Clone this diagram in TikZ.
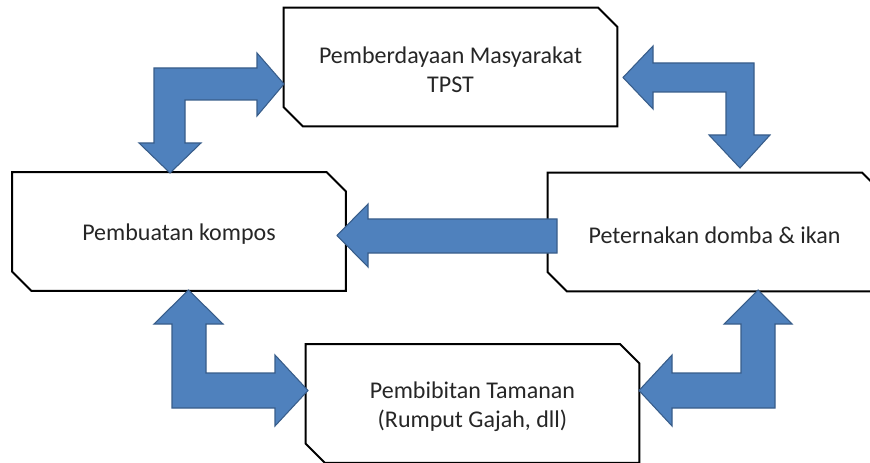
\documentclass[tikz,border=0pt]{standalone}
\usepackage{fontspec}
\setmainfont{Carlito}
\usetikzlibrary{calc}
\definecolor{arrowfill}{HTML}{4F81BD}
\definecolor{arrowline}{HTML}{385D8A}
\tikzset{
  boxnode/.style={minimum width=249.75pt, minimum height=88.5pt, inner sep=0pt, align=center, font=\fontsize{18}{22}\selectfont},
  boxtext/.style={inner sep=0pt, align=center, font=\fontsize{18}{22}\selectfont, text=black!85},
  boxline/.style={line width=1.5pt, line join=miter},
  blockarrow/.style={fill=arrowfill, draw=arrowline, line width=0.8pt, line join=miter},
}
\newcommand\chbox[1]{\draw[boxline] (#1.north west) -- ($(#1.north east)+(-19,0)$) -- ($(#1.north east)+(0,19)$) -- (#1.south east) -- ($(#1.south west)+(19,0)$) -- ($(#1.south west)+(0,-19)$) -- cycle;}
\begin{document}
\begin{tikzpicture}[x=0.75pt,y=-0.75pt]
\useasboundingbox (0,0) rectangle (870,463);
\clip (0,0) rectangle (870,463);
% boxes
\node[boxnode] (tpst) at (450.5,67) {};
\node[boxnode] (kompos) at (179,231.5) {};
\node[boxnode] (ternak) at (714.5,232) {};
\node[boxnode] (bibit) at (472.5,403.5) {};
\node[boxtext] (tpstT) at ($(tpst.center)+(0,3)$) {Pemberdayaan Masyarakat\\TPST};
\node[boxtext] (komposT) at ($(kompos.center)+(0,3)$) {Pembuatan kompos};
\node[boxtext] (ternakT) at ($(ternak.center)+(0,3)$) {Peternakan domba \& ikan};
\node[boxtext] (bibitT) at ($(bibit.center)+(0,3)$) {Pembibitan Tamanan\\(Rumput Gajah, dll)};
\chbox{tpst}
\chbox{kompos}
\chbox{ternak}
\chbox{bibit}
% block arrows
\draw[blockarrow] (154,68) -- (257,68) -- (257,53) -- (284,84) -- (257,116) -- (257,100) -- (185,100) -- (185,143) -- (201,143) -- (170,173) -- (139,143) -- (154,143) -- cycle;
\draw[blockarrow] (754,63) -- (754,135) -- (770,135) -- (740,168) -- (709,135) -- (726,135) -- (726,92) -- (653,92) -- (653,109) -- (623,77.5) -- (653,46) -- (653,63) -- cycle;
\draw[blockarrow] (557,219) -- (368,219) -- (368,204) -- (337,235.5) -- (368,267) -- (368,253) -- (557,253) -- cycle;
\draw[blockarrow] (172,408) -- (172,324) -- (154,324) -- (188.5,290) -- (223,324) -- (206,324) -- (206,373) -- (275,373) -- (275,355) -- (308,390.5) -- (275,426) -- (275,408) -- cycle;
\draw[blockarrow] (775,408) -- (672,408) -- (672,426) -- (639,390.5) -- (672,355) -- (672,373) -- (741,373) -- (741,324) -- (724,324) -- (758,290) -- (792,324) -- (775,324) -- cycle;
\end{tikzpicture}
\end{document}
